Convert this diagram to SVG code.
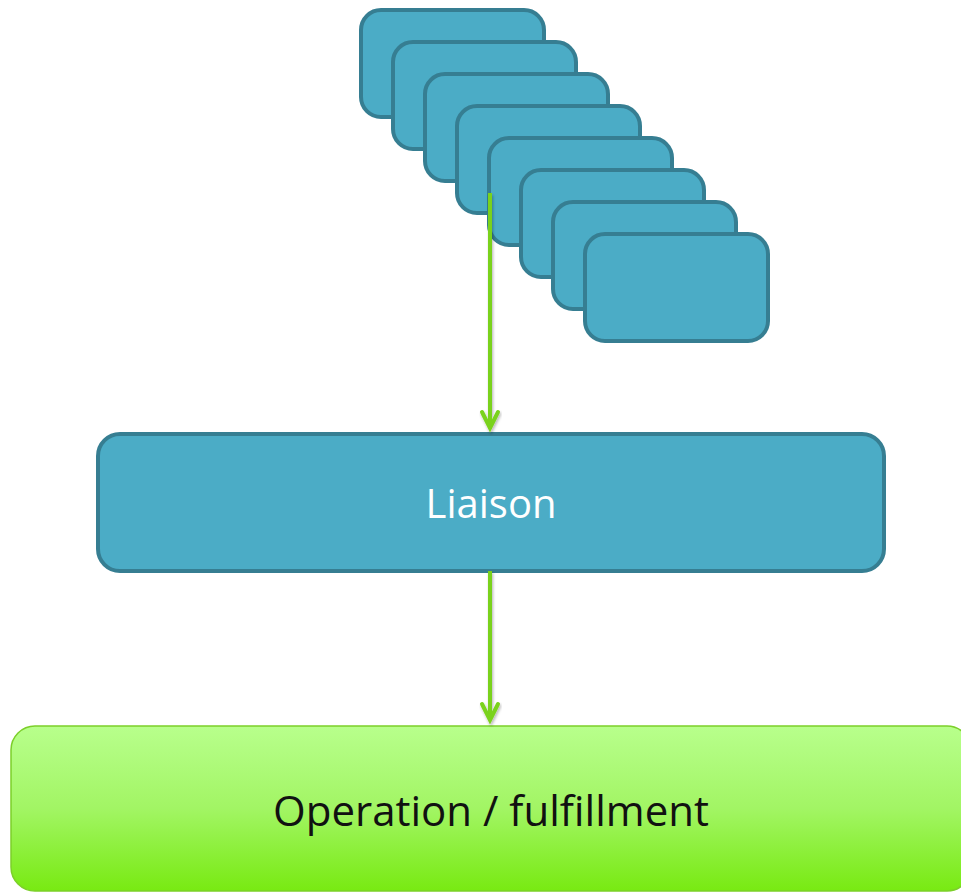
<svg xmlns="http://www.w3.org/2000/svg" width="961" height="893" viewBox="0 0 961 893">
  <style>
    .card { fill: #4BACC6; stroke: #367E92; stroke-width: 4; }
    .conn { stroke: #7AD21C; stroke-width: 4; fill: none; }
    .head { stroke: #7AD21C; stroke-width: 4; fill: none; stroke-linecap: round; stroke-linejoin: miter; }
    .lbl { font-family: "Open Sans", "Liberation Sans", sans-serif; text-anchor: middle; }
  </style>
  <defs>
    <linearGradient id="gGreen" x1="0" y1="0" x2="0" y2="1">
      <stop offset="0" stop-color="#B8FF8C"/>
      <stop offset="0.5" stop-color="#A2F564"/>
      <stop offset="1" stop-color="#78EA12"/>
    </linearGradient>
    <filter id="sh" x="-20%" y="-20%" width="140%" height="140%">
      <feGaussianBlur in="SourceAlpha" stdDeviation="1.5"/>
      <feOffset dx="1" dy="2" result="b"/>
      <feComponentTransfer><feFuncA type="linear" slope="0.3"/></feComponentTransfer>
      <feMerge><feMergeNode/><feMergeNode in="SourceGraphic"/></feMerge>
    </filter>
  </defs>

  <g id="stack">
    <rect class="card" x="361" y="10" width="183" height="107" rx="20"/>
    <rect class="card" x="393" y="42" width="183" height="107" rx="20"/>
    <rect class="card" x="425" y="74" width="183" height="107" rx="20"/>
    <rect class="card" x="457" y="106" width="183" height="107" rx="20"/>
    <rect class="card" x="489" y="138" width="183" height="107" rx="20"/>
    <rect class="card" x="521" y="170" width="183" height="107" rx="20"/>
    <rect class="card" x="553" y="202" width="183" height="107" rx="20"/>
    <rect class="card" x="585" y="234" width="183" height="107" rx="20"/>
  </g>

  <g id="liaison">
    <rect class="card" x="98" y="434" width="786" height="137" rx="22"/>
    <text class="lbl" x="491" y="518" font-size="40" fill="#FFFFFF">Liaison</text>
  </g>

  <g id="operation">
    <rect x="11" y="726" width="960" height="165" rx="24" fill="url(#gGreen)" stroke="#7CCF2A" stroke-width="1.5"/>
    <text class="lbl" x="491" y="826" font-size="42" fill="#111111">Operation / fulfillment</text>
  </g>

  <g id="connectors" filter="url(#sh)">
    <line class="conn" x1="490" y1="193" x2="490" y2="429"/>
    <polyline class="head" points="482,412 490,428 498,412"/>
    <line class="conn" x1="490" y1="571" x2="490" y2="720"/>
    <polyline class="head" points="482,704 490,720 498,704"/>
  </g>
</svg>
